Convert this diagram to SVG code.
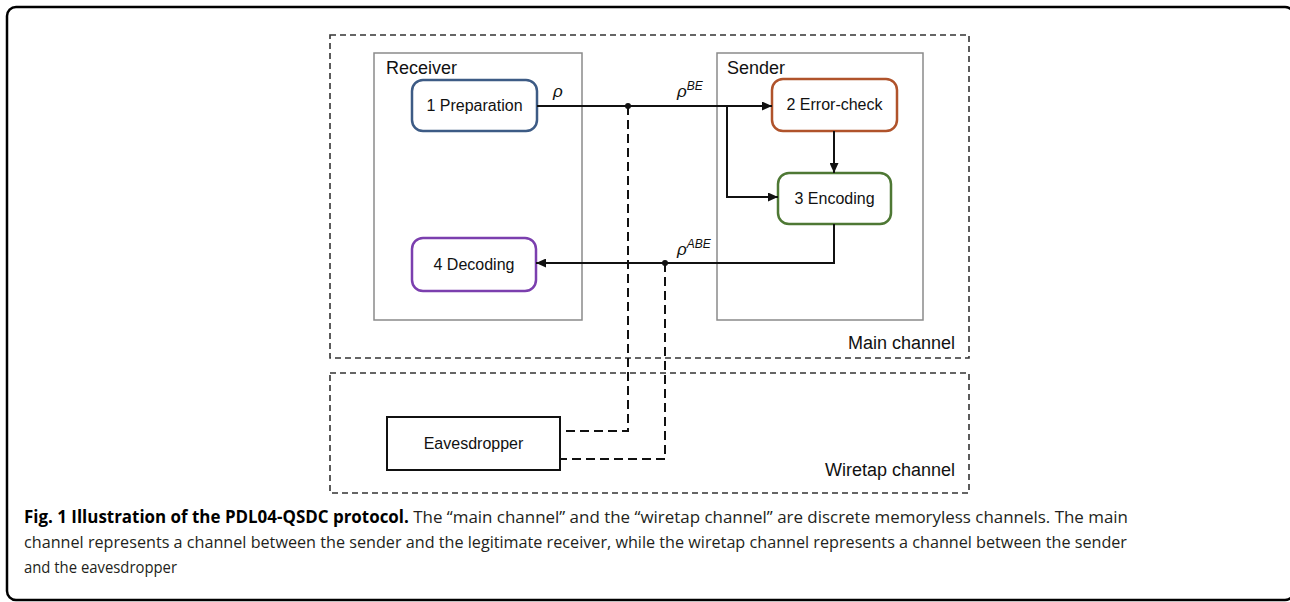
<svg xmlns="http://www.w3.org/2000/svg" width="1290" height="602" viewBox="0 0 1290 602">
<style>
.frame{fill:none;stroke:#000;stroke-width:2.5}
.chan{fill:none;stroke:#333;stroke-width:1.6;stroke-dasharray:6 4}
.party{fill:#fff;stroke:#8a8a8a;stroke-width:1.5}
.step{fill:#fff;stroke-width:2.5}
.lbl{font-family:"Liberation Sans",Arial,sans-serif;font-size:16px;fill:#111}
.big{font-family:"Liberation Sans",Arial,sans-serif;font-size:18px;fill:#111}
.rho{font-family:"Liberation Sans",Arial,sans-serif;font-style:italic;font-size:17px;fill:#111}
.sup{font-size:12px}
.wire{fill:none;stroke:#111;stroke-width:2}
.tap{fill:none;stroke:#111;stroke-width:2;stroke-dasharray:9 5}
.cap{font-family:"Open Sans","Noto Sans",sans-serif;font-size:17px;fill:#231f20}
.capb{font-weight:bold;fill:#000}
</style>
<defs>
<marker id="ah" markerWidth="10" markerHeight="9" refX="10" refY="4.5" orient="auto" markerUnits="userSpaceOnUse">
<path d="M0,0 L10,4.5 L0,9 Z" fill="#111"/>
</marker>
</defs>
<rect class="frame" x="7" y="7" width="1287" height="593" rx="9"/>
<g id="main-channel">
<rect class="chan" x="330" y="35" width="639" height="323"/>
<text class="big" x="955" y="349" text-anchor="end">Main channel</text>
</g>
<g id="wiretap-channel">
<rect class="chan" x="330" y="373" width="639" height="120"/>
<text class="big" x="955" y="476" text-anchor="end">Wiretap channel</text>
</g>
<g id="receiver">
<rect class="party" x="374" y="53" width="208" height="267"/>
<text class="big" x="386" y="74">Receiver</text>
</g>
<g id="sender">
<rect class="party" x="717" y="53" width="206" height="267"/>
<text class="big" x="727" y="74">Sender</text>
</g>
<g id="preparation">
<rect class="step" x="412" y="80" width="125" height="51" rx="11" stroke="#3d5b85"/>
<text class="lbl" x="474.5" y="111" text-anchor="middle">1 Preparation</text>
</g>
<g id="error-check">
<rect class="step" x="772" y="79" width="125" height="52" rx="11" stroke="#b0532b"/>
<text class="lbl" x="834.5" y="110" text-anchor="middle">2 Error-check</text>
</g>
<g id="encoding">
<rect class="step" x="778" y="173" width="113" height="51" rx="11" stroke="#4e7834"/>
<text class="lbl" x="834.5" y="204" text-anchor="middle">3 Encoding</text>
</g>
<g id="decoding">
<rect class="step" x="412" y="238" width="124" height="53" rx="11" stroke="#7b3fae"/>
<text class="lbl" x="474" y="270" text-anchor="middle">4 Decoding</text>
</g>
<g id="eavesdropper">
<rect x="387" y="417" width="173" height="53" fill="#fff" stroke="#111" stroke-width="2"/>
<text class="lbl" x="473.5" y="449" text-anchor="middle">Eavesdropper</text>
</g>
<g id="connectors">
<path class="wire" d="M537,106 H772" marker-end="url(#ah)"/>
<path class="wire" d="M727,106 V197 H778" marker-end="url(#ah)"/>
<path class="wire" d="M834,131 V173" marker-end="url(#ah)"/>
<path class="wire" d="M834,224 V263 H536" marker-end="url(#ah)"/>
<path class="tap" d="M628,106 V431 H560"/>
<path class="tap" d="M665,263 V459 H560"/>
<circle cx="628" cy="106" r="3" fill="#111"/>
<circle cx="665" cy="263" r="3" fill="#111"/>
<text class="rho" x="553" y="97">ρ</text>
<text class="rho" x="677" y="97">ρ<tspan class="sup" dy="-7">BE</tspan></text>
<text class="rho" x="677" y="255">ρ<tspan class="sup" dy="-7">ABE</tspan></text>
</g>
<g id="caption">
<text class="cap" x="24" y="523" textLength="1104" lengthAdjust="spacingAndGlyphs"><tspan class="capb">Fig. 1 Illustration of the PDL04-QSDC protocol.</tspan> The “main channel” and the “wiretap channel” are discrete memoryless channels. The main</text>
<text class="cap" x="24" y="548" textLength="1103" lengthAdjust="spacingAndGlyphs">channel represents a channel between the sender and the legitimate receiver, while the wiretap channel represents a channel between the sender</text>
<text class="cap" x="24" y="573" textLength="153" lengthAdjust="spacingAndGlyphs">and the eavesdropper</text>
</g>
</svg>
